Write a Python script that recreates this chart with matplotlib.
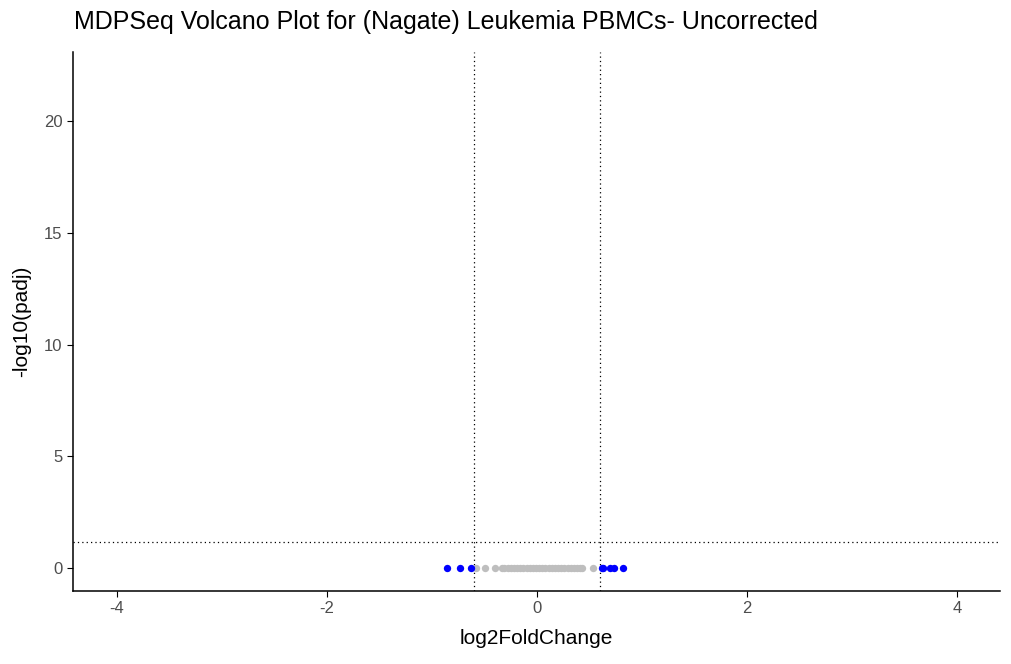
import matplotlib
matplotlib.use("Agg")
import matplotlib.pyplot as plt

fc_gray = [-0.583, -0.495, -0.40, -0.336, -0.31, -0.28, -0.25, -0.22, -0.19, -0.16, -0.13, -0.10,
           -0.07, -0.04, -0.01, 0.02, 0.05, 0.08, 0.11, 0.14, 0.17, 0.20, 0.23, 0.26, 0.29,
           0.32, 0.35, 0.38, 0.41, 0.425, 0.536]
padj_gray = [0.0] * len(fc_gray)
fc_blue = [-0.853, -0.733, -0.631, 0.615, 0.63, 0.695, 0.736, 0.815]
padj_blue = [0.0] * len(fc_blue)
fc_cut = 0.6
p_cut = 1.15

plt.rcParams['font.family'] = ['Liberation Sans', 'DejaVu Sans']
plt.rcParams['axes.unicode_minus'] = False
fig = plt.figure(figsize=(10.12, 6.64), dpi=100)
ax = fig.add_axes([73/1012, 1-591/664, 927/1012, 539/664])
ax.scatter(fc_gray, padj_gray, s=28, color='#BEBEBE', linewidths=0, zorder=2)
ax.scatter(fc_blue, padj_blue, s=28, color='#0000FF', linewidths=0, zorder=3)
ls = (0, (1, 2.5))
ax.axvline(-fc_cut, color='black', ls=ls, lw=0.9, zorder=1)
ax.axvline(fc_cut, color='black', ls=ls, lw=0.9, zorder=1)
ax.axhline(p_cut, color='black', ls=ls, lw=0.9, zorder=1)
ax.set_xlim(-4.415, 4.405)
ax.set_ylim(-1.03, 23.1)
ax.set_xticks([-4, -2, 0, 2, 4])
ax.set_yticks([0, 5, 10, 15, 20])
for s in ['top', 'right']:
    ax.spines[s].set_visible(False)
for s in ['left', 'bottom']:
    ax.spines[s].set_linewidth(1.1)
ax.tick_params(labelsize=12, colors='black', labelcolor='#4D4D4D', length=4)
ax.set_xlabel('log2FoldChange', fontsize=15, labelpad=9)
ax.set_ylabel('-log10(padj)', fontsize=15, labelpad=9)
fig.text(74/1012, 1-22/664, 'MDPSeq Volcano Plot for (Nagate) Leukemia PBMCs- Uncorrected',
         fontsize=18, va='center', ha='left')
fig.savefig('out.png', dpi=100)
